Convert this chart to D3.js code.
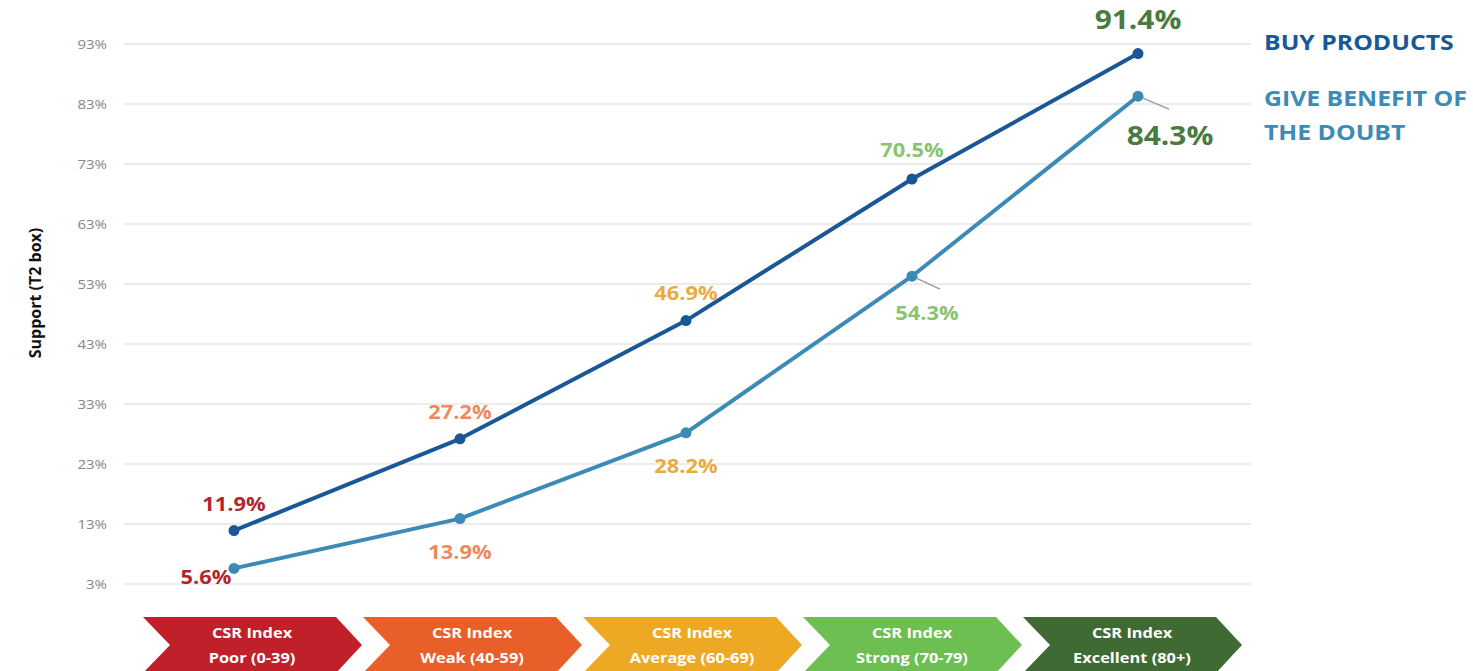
<!DOCTYPE html>
<html>
<head>
<meta charset="utf-8">
<script src="https://cdn.jsdelivr.net/npm/d3@7"></script>
<style>
  html, body { margin: 0; padding: 0; background: #ffffff; }
  svg { display: block; font-family: "Open Sans", Lato, sans-serif; }
</style>
</head>
<body>
<script>
// ---------- data ----------
const categories = ["Poor (0-39)", "Weak (40-59)", "Average (60-69)", "Strong (70-79)", "Excellent (80+)"];
const buyProducts = [11.9, 27.2, 46.9, 70.5, 91.4];
const benefitOfDoubt = [5.6, 13.9, 28.2, 54.3, 84.3];
const yTicks = [3, 13, 23, 33, 43, 53, 63, 73, 83, 93];
const seriesNames = ["BUY PRODUCTS", "GIVE BENEFIT OF THE DOUBT"];

// ---------- styles ----------
const catColors = ["#c0202a", "#e95f2a", "#eea924", "#6dbf51", "#3f6a34"];
const labelColors = ["#b0262d", "#ec8a5d", "#e7ac3c", "#88c46f", "#4a7a3d"];
const lineColors = ["#1a5797", "#3b8bb6"];
const stretch = 1.15; // text in the reference is horizontally widened

const W = 1473, H = 671;
const svg = d3.select("body").append("svg").attr("width", W).attr("height", H);

const x = d3.scalePoint().domain(categories).range([121, 1251]).padding(0.5);
const y = d3.scaleLinear().domain([3, 93]).range([584, 44]);

// gridlines
svg.append("g").selectAll("line").data(yTicks).join("line")
  .attr("x1", 124).attr("x2", 1251)
  .attr("y1", d => y(d)).attr("y2", d => y(d))
  .attr("stroke", "#d9d9d9").attr("stroke-width", 1);

// y axis labels
const yAxis = d3.axisLeft(y).tickValues(yTicks).tickFormat(d => d + "%").tickSize(0).tickPadding(0);
const ga = svg.append("g").attr("transform", "translate(107,0)").call(yAxis);
ga.select(".domain").remove();
ga.selectAll("text").attr("fill", "#858585").attr("transform", "scale(1.2,1)")
  .style("font-size", "12.5px").style("font-family", "'Open Sans', sans-serif");

// y axis title
svg.append("text")
  .attr("transform", "translate(41,293) rotate(-90)")
  .attr("text-anchor", "middle")
  .style("font-size", "16px").style("font-weight", "bold").attr("fill", "#111")
  .text("Support (T2 box)");

// lines
const line = d3.line().x((d, i) => x(categories[i])).y(d => y(d));
[buyProducts, benefitOfDoubt].forEach((s, k) => {
  svg.append("path").datum(s).attr("d", line)
    .attr("fill", "none").attr("stroke", lineColors[k]).attr("stroke-width", 4)
    .attr("stroke-linejoin", "round");
});

// leader lines for some lower labels
const leaders = [{i: 3, dx: 28, dy: 13}, {i: 4, dx: 31, dy: 13}];
leaders.forEach(l => {
  const px = x(categories[l.i]), py = y(benefitOfDoubt[l.i]);
  svg.append("line").attr("x1", px).attr("y1", py).attr("x2", px + l.dx).attr("y2", py + l.dy)
    .attr("stroke", "#999").attr("stroke-width", 1.3);
});

// markers
[buyProducts, benefitOfDoubt].forEach((s, k) => {
  svg.append("g").selectAll("circle").data(s).join("circle")
    .attr("cx", (d, i) => x(categories[i])).attr("cy", d => y(d)).attr("r", 5.5)
    .attr("fill", lineColors[k]);
});

// data labels
const upperOff = [{dx: 0, dy: -20, fs: 19}, {dx: 0, dy: -20, fs: 19}, {dx: 0, dy: -21, fs: 19}, {dx: 0, dy: -22, fs: 19}, {dx: 0, dy: -25, fs: 26}];
const lowerOff = [{dx: -28, dy: 16, fs: 19}, {dx: 0, dy: 40, fs: 19}, {dx: 0, dy: 40, fs: 19}, {dx: 15, dy: 44, fs: 19}, {dx: 32, dy: 49, fs: 26}];
[[buyProducts, upperOff], [benefitOfDoubt, lowerOff]].forEach(([s, off]) => {
  svg.append("g").selectAll("text").data(s).join("text")
    .attr("transform", (d, i) => `translate(${x(categories[i]) + off[i].dx},${y(d) + off[i].dy}) scale(${stretch},1)`)
    .attr("text-anchor", "middle")
    .style("font-size", (d, i) => off[i].fs + "px")
    .style("font-weight", "bold")
    .attr("fill", (d, i) => labelColors[i])
    .text(d => d.toFixed(1) + "%");
});

// legend
const legend = svg.append("g").attr("transform", "translate(1264,0) scale(1.18,1)")
  .style("font-size", "21px").style("font-weight", "bold");
legend.append("text").attr("x", 0).attr("y", 50).attr("fill", lineColors[0]).text(seriesNames[0]);
const t2 = legend.append("text").attr("x", 0).attr("y", 106).attr("fill", lineColors[1]);
t2.append("tspan").attr("x", 0).text("GIVE BENEFIT OF");
t2.append("tspan").attr("x", 0).attr("dy", 34).text("THE DOUBT");

// category chevrons
const band = d3.scaleBand().domain(categories).range([143, 1243]);
const aTop = 617, aH = 56, depth = 26, notch = 27;
const chev = svg.append("g").selectAll("g").data(categories).join("g")
  .attr("transform", d => `translate(${band(d)},${aTop})`);
chev.append("path")
  .attr("d", () => {
    const w = band.bandwidth() - 1;
    return `M0,0 L${w - depth},0 L${w},${aH / 2} L${w - depth},${aH} L0,${aH} L${notch},${aH / 2} Z`;
  })
  .attr("fill", (d, i) => catColors[i]);
const ct = chev.append("text").attr("text-anchor", "middle").attr("fill", "#fff")
  .attr("transform", "translate(109,0) scale(1.13,1)")
  .style("font-size", "14.5px").style("font-weight", "bold");
ct.append("tspan").attr("x", 0).attr("y", 21).text("CSR Index");
ct.append("tspan").attr("x", 0).attr("y", 46).text(d => d);
</script>
</body>
</html>
